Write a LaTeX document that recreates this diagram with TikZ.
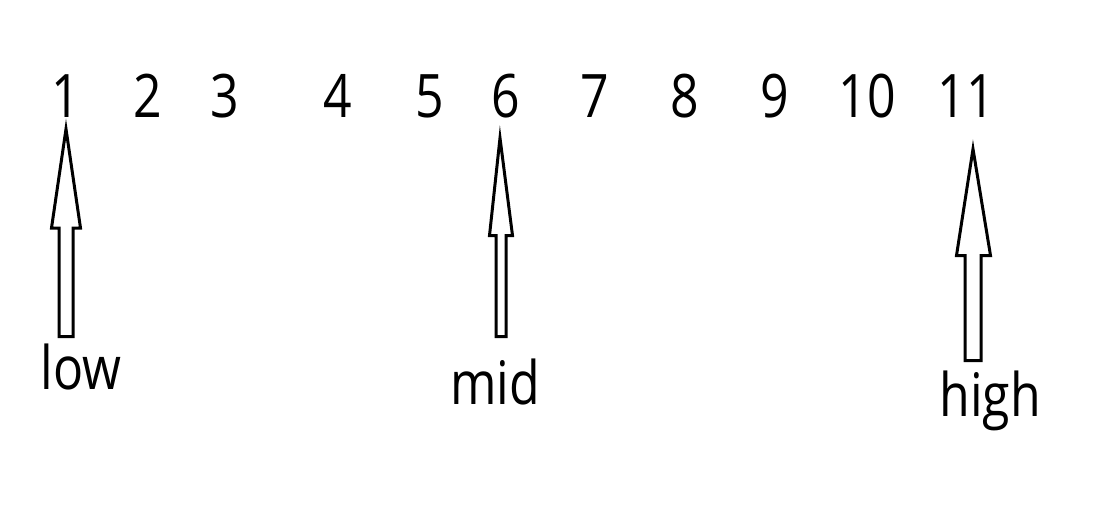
\documentclass[tikz,border=0pt]{standalone}
\usepackage{fontspec}
\setmainfont{Open Sans}
\begin{document}
\begin{tikzpicture}[x=1pt,y=-1pt,
  num/.style={anchor=base,inner sep=0pt,font=\fontsize{50}{60}\selectfont},
  lbl/.style={anchor=base,inner sep=0pt,font=\fontsize{50}{60}\selectfont},
  blockarrow/.style={draw=black,fill=white,line width=3pt,line join=miter}]
\useasboundingbox[fill=white] (0,0) rectangle (1105,504);
% numbers
\foreach \n/\xx in {1/66,2/148,3/225,4/338,5/430,6/506,7/595,8/685,9/775,10/867,11/966}
  \node[num] (n\n) at (\xx,117) {\scalebox{1}[1.2]{\n}};
% labels
\node[lbl] (low)  at (81,389)  {\scalebox{1}[1.2]{low}};
\node[lbl] (mid)  at (495,404) {\scalebox{1}[1.2]{mid}};
\node[lbl] (high) at (990,416) {\scalebox{1}[1.2]{high}};
% block arrows: tip, head base y, head half width, shaft half width, bottom y
\draw[blockarrow] (66,129) -- (80.5,228) -- (73,228) -- (73,336.5) -- (59,336.5) -- (59,228) -- (51.5,228) -- cycle;
\draw[blockarrow] (500,138) -- (512.5,235.5) -- (506,235.5) -- (506,336.5) -- (496,336.5) -- (496,235.5) -- (489.5,235.5) -- cycle;
\draw[blockarrow] (973,149) -- (990.5,255.5) -- (981,255.5) -- (981,360.5) -- (965,360.5) -- (965,255.5) -- (956.5,255.5) -- cycle;
\end{tikzpicture}
\end{document}
